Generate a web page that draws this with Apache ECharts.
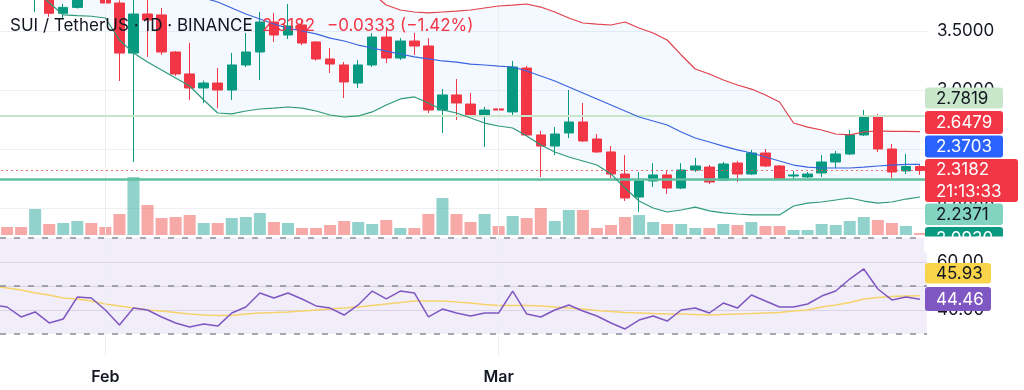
<!DOCTYPE html>
<html><head><meta charset="utf-8">
<script src="https://cdn.jsdelivr.net/npm/echarts@6/dist/echarts.min.js"></script>
<style>html,body{margin:0;padding:0;background:#fff}#c{width:1024px;height:390px}</style>
</head><body><div id="c"></div>
<script>
// ---- data ----
const dates = ['2025-01-24','2025-01-25','2025-01-26','2025-01-27','2025-01-28','2025-01-29','2025-01-30','2025-01-31',
'2025-02-01','2025-02-02','2025-02-03','2025-02-04','2025-02-05','2025-02-06','2025-02-07','2025-02-08','2025-02-09','2025-02-10',
'2025-02-11','2025-02-12','2025-02-13','2025-02-14','2025-02-15','2025-02-16','2025-02-17','2025-02-18','2025-02-19','2025-02-20',
'2025-02-21','2025-02-22','2025-02-23','2025-02-24','2025-02-25','2025-02-26','2025-02-27','2025-02-28',
'2025-03-01','2025-03-02','2025-03-03','2025-03-04','2025-03-05','2025-03-06','2025-03-07','2025-03-08','2025-03-09','2025-03-10',
'2025-03-11','2025-03-12','2025-03-13','2025-03-14','2025-03-15','2025-03-16','2025-03-17','2025-03-18','2025-03-19','2025-03-20',
'2025-03-21','2025-03-22','2025-03-23','2025-03-24','2025-03-25','2025-03-26','2025-03-27','2025-03-28','2025-03-29','2025-03-30','2025-03-31'];

const open = [4.20,4.15,4.08,3.90,3.96,3.65,3.70,3.88,
3.80,3.737,3.313,3.644,3.636,3.322,3.136,3.017,3.059,3.0,
3.212,3.322,3.576,3.466,3.551,3.407,3.263,3.212,3.059,3.212,
3.449,3.271,3.415,3.373,2.83,2.958,2.881,2.788,
2.84,2.814,3.186,2.619,2.525,2.636,2.729,2.585,2.475,2.288,
2.093,2.229,2.28,2.169,2.322,2.347,2.237,2.381,2.288,2.466,
2.356,2.271,2.263,2.297,2.39,2.458,2.619,2.78,2.5,2.314,2.3515];
const close = [4.15,4.08,3.98,3.96,3.65,3.70,3.88,3.80,
3.737,3.313,3.644,3.593,3.322,3.136,3.017,3.059,3.0,3.212,
3.322,3.576,3.466,3.542,3.398,3.263,3.22,3.068,3.212,3.449,
3.271,3.415,3.373,2.83,2.958,2.89,2.788,2.83,
2.83,3.195,2.619,2.525,2.627,2.729,2.568,2.475,2.288,2.085,
2.229,2.28,2.169,2.322,2.356,2.22,2.373,2.288,2.466,2.356,
2.246,2.28,2.288,2.39,2.458,2.619,2.78,2.5,2.305,2.3515,2.3182];
const low = [4.05,4.00,3.90,3.66,3.62,3.61,3.69,3.78,
3.73,3.076,2.39,3.28,3.297,3.12,2.915,2.89,2.847,2.915,
3.195,3.085,3.407,3.432,3.38,3.25,3.144,2.932,3.017,3.195,
3.229,3.254,3.297,2.805,2.636,2.746,2.771,2.517,
2.771,2.788,2.61,2.263,2.449,2.593,2.559,2.466,2.254,2.059,
1.966,2.178,2.119,2.16,2.305,2.203,2.229,2.22,2.28,2.347,
2.237,2.237,2.254,2.263,2.339,2.449,2.61,2.475,2.254,2.288,2.28];
const high = [4.30,4.22,4.12,4.05,4.03,3.73,3.95,3.98,
3.85,3.76,3.80,3.78,3.695,3.33,3.40,3.08,3.186,3.314,
3.483,3.66,3.653,3.729,3.593,3.415,3.356,3.237,3.254,3.483,
3.534,3.44,3.483,3.44,3.008,3.093,2.975,2.856,
2.924,3.246,3.203,2.653,2.686,3.0,2.89,2.627,2.525,2.449,
2.305,2.381,2.322,2.381,2.424,2.364,2.39,2.398,2.492,2.5,
2.364,2.314,2.305,2.449,2.483,2.661,2.83,2.797,2.542,2.458,2.37];
const volume = [20,16,16,52,22,24,28,24,
16,42,116,60,34,36,40,24,24,34,
36,44,26,24,14,14,20,28,26,22,
30,14,14,42,74,42,26,42,
18,38,34,54,28,50,50,14,20,36,
40,26,22,22,14,14,22,20,26,18,
18,10,10,22,20,28,36,30,24,18,4];
const bbUpper = [4.51,4.50,4.51,4.53,4.56,4.58,4.51,4.44,
4.37,4.48,4.51,4.52,4.53,4.54,4.57,4.65,4.69,4.59,
4.47,4.37,4.27,4.19,4.15,4.12,4.06,3.98,3.90,3.82,
3.72,3.678,3.661,3.653,3.661,3.669,3.678,3.695,
3.712,3.72,3.729,3.703,3.661,3.61,3.568,3.559,3.551,3.576,
3.525,3.483,3.424,3.297,3.178,3.136,3.085,3.042,3.008,2.958,
2.898,2.72,2.686,2.661,2.627,2.619,2.644,2.653,2.649,2.649,2.6479];
const bbMiddle = [4.28,4.25,4.22,4.19,4.15,4.11,4.07,4.03,
3.99,3.95,3.91,3.88,3.85,3.82,3.80,3.78,3.746,3.695,
3.644,3.602,3.559,3.525,3.50,3.475,3.44,3.415,3.381,3.356,
3.33,3.305,3.28,3.263,3.246,3.237,3.22,3.212,
3.203,3.195,3.161,3.119,3.076,3.025,2.975,2.924,2.873,2.822,
2.771,2.737,2.703,2.644,2.593,2.559,2.525,2.492,2.466,2.432,
2.398,2.364,2.347,2.339,2.339,2.339,2.347,2.356,2.364,2.369,2.3703];
const bbLower = [4.05,4.00,3.93,3.85,3.74,3.636,3.63,3.625,
3.61,3.424,3.314,3.237,3.169,3.102,3.034,2.915,2.805,2.797,
2.822,2.839,2.847,2.856,2.847,2.822,2.788,2.771,2.78,2.814,
2.873,2.924,2.941,2.89,2.831,2.805,2.763,2.72,
2.695,2.678,2.61,2.534,2.475,2.432,2.398,2.364,2.288,2.169,
2.059,2.0,1.966,1.983,2.008,1.975,1.958,1.949,1.941,1.941,
1.941,2.017,2.042,2.051,2.068,2.085,2.059,2.042,2.051,2.076,2.093];
const rsi = [42.1,41.25,37.1,39.2,34.6,36.25,45.4,45.0,
40.0,33.75,40.8,40.0,37.1,34.6,32.9,34.2,33.3,38.75,
41.25,47.1,45.0,47.1,44.6,41.7,40.8,37.9,42.1,47.9,
44.6,47.9,47.1,37.1,40.4,38.75,37.5,38.75,
38.75,47.9,38.3,37.1,40.0,42.1,39.6,37.5,34.6,32.1,
35.8,37.5,35.4,40.0,40.8,38.75,42.9,40.8,46.25,43.75,
41.25,41.25,42.5,45.8,47.9,52.9,57.1,48.75,44.2,45.4,44.46];
const rsiMa = [50.0,49.2,48.3,47.1,46.25,45.0,44.6,43.75,
42.5,41.7,40.8,40.0,39.6,38.96,38.3,37.9,37.7,37.7,
38.3,38.75,38.96,39.2,39.6,40.0,40.4,40.8,41.25,41.9,
42.5,43.1,43.75,43.75,43.75,43.3,42.9,42.3,
41.9,41.9,41.9,41.7,41.25,40.8,40.4,39.8,39.4,38.96,
38.75,38.5,38.3,38.3,38.1,37.9,38.1,38.3,38.5,38.75,
38.96,39.6,40.0,41.25,42.1,43.1,44.6,45.2,45.6,45.8,45.93];
const priceTicks = [2.0, 2.5, 3.0, 3.5];
const hLevels = {resistance: 2.7819, support: 2.2371, last: 2.3182};
const rightLabels = ['2.7819','2.6479','2.3703','2.3182','21:13:33','2.2371','2.0930'];
const rsiLabels = ['45.93','44.46'];
const titleMain = 'SUI / TetherUS · 1D · BINANCE';
const titlePrice = '2.3182';
const titleChange = '−0.0333 (−1.42%)';
const monthNames = {'02':'Feb','03':'Mar'};

// ---- build ----
const UP = '#089981', DOWN = '#f23645';
const candleData = dates.map((d,i)=>[open[i], close[i], low[i], high[i]]);
const volData = volume.map((v,i)=>({value:v, itemStyle:{color: close[i]>=open[i] ? 'rgba(38,166,154,0.5)' : 'rgba(239,83,80,0.5)'}}));
const bbFill = bbUpper.map((u,i)=>+(u-bbLower[i]).toFixed(4));
const FONT = 'Inter, "Noto Sans", sans-serif';
const GL = -14, GW = 941;

const chart = echarts.init(document.getElementById('c'), null, {renderer:'canvas'});

function box(x, y, w, h, bg, lines, color, z){
  const children = [{type:'rect', shape:{x:x, y:y, width:w, height:h, r:3}, style:{fill:bg}, z:z}];
  const lh = h / lines.length;
  lines.forEach((t,k)=>children.push({type:'text', x:x+11, y:y+lh*k+lh/2+0.5, z:z+1,
    style:{text:t, font:'17px '+FONT, fill:color, verticalAlign:'middle', align:'left'}}));
  return children;
}

const graphics = [
  {type:'text', x:10, y:25.5, z:50, style:{text:titleMain, font:'17px '+FONT, fill:'#131722', verticalAlign:'middle'}},
  {type:'text', x:262, y:25.5, z:50, style:{text:titlePrice, font:'17px '+FONT, fill:DOWN, verticalAlign:'middle'}},
  {type:'text', x:327, y:25.5, z:50, style:{text:titleChange, font:'17px '+FONT, fill:DOWN, verticalAlign:'middle'}},
  ...box(925, 87.5, 78, 21, '#c8e6c9', [rightLabels[0]], '#131722', 100),
  ...box(925, 111, 78, 23, '#f23645', [rightLabels[1]], '#ffffff', 100),
  ...box(925, 135.5, 78, 22, '#2962ff', [rightLabels[2]], '#ffffff', 100),
  ...box(925, 159, 93, 43, '#f23645', [rightLabels[3], rightLabels[4]], '#ffffff', 100),
  ...box(925, 203.5, 78, 21.5, '#82d3c0', [rightLabels[5]], '#131722', 100),
  ...box(925, 227, 78, 22, '#089981', [rightLabels[6]], '#ffffff', 100),
  {type:'rect', shape:{x:924, y:236.5, width:100, height:16}, style:{fill:'#ffffff'}, z:110},
  ...box(925, 263, 66, 20.5, '#f9d44a', [rsiLabels[0]], '#131722', 100),
  ...box(925, 287, 66, 24, '#7e57c2', [rsiLabels[1]], '#ffffff', 100)
];

const hiddenCat = (gi)=>({type:'category', gridIndex:gi, data:dates, boundaryGap:true,
  axisLine:{show:false}, axisTick:{show:false}, axisLabel:{show:false}, splitLine:{show:false}});

const option = {
  animation:false,
  backgroundColor:'#ffffff',
  textStyle:{fontFamily:FONT},
  grid:[
    {left:GL, width:GW, top:-28, height:295, outerBoundsMode:'none', containLabel:false},
    {left:GL, width:GW, top:135, height:100, outerBoundsMode:'none', containLabel:false},
    {left:GL, width:GW, top:238, height:96, outerBoundsMode:'none', containLabel:false},
    {left:GL, width:GW, top:0, height:355, outerBoundsMode:'none', containLabel:false}
  ],
  xAxis:[hiddenCat(0), hiddenCat(1), hiddenCat(2),
    {type:'category', gridIndex:3, data:dates, boundaryGap:true,
     axisLine:{show:false}, axisTick:{show:false}, splitLine:{show:false},
     axisLabel:{show:true, margin:14, interval:(idx,v)=>v.slice(8)==='01',
       formatter:v=>monthNames[v.slice(5,7)]||'', fontSize:16, fontWeight:600, color:'#131722', fontFamily:FONT}}],
  yAxis:[
    {type:'value', gridIndex:0, position:'right', min:1.5, max:4.0, interval:0.5,
     axisLine:{show:false}, axisTick:{show:false},
     axisLabel:{margin:10, fontSize:17, color:'#131722', fontFamily:FONT, showMinLabel:false, showMaxLabel:false,
       formatter:v=>priceTicks.some(t=>Math.abs(t-v)<1e-9)?v.toFixed(4):''},
     splitLine:{show:true, showMinLine:false, showMaxLine:false, lineStyle:{color:'#eef0f4', width:1}}},
    {type:'value', gridIndex:1, min:0, max:200, show:false, splitLine:{show:false}},
    {type:'value', gridIndex:2, position:'right', min:30, max:70, interval:10,
     axisLine:{show:false}, axisTick:{show:false},
     axisLabel:{margin:10, fontSize:17, color:'#131722', fontFamily:FONT,
       formatter:v=>(v===60||v===40)?v.toFixed(2):''},
     splitLine:{show:true, showMinLine:false, showMaxLine:false, lineStyle:{color:'#e4e0ec', width:1}}},
    {type:'value', gridIndex:3, min:0, max:1, show:false, splitLine:{show:false}}
  ],
  graphic: graphics,
  series:[
    {name:'month lines', type:'line', xAxisIndex:3, yAxisIndex:3, data:[], z:1, silent:true,
     markLine:{symbol:'none', silent:true, label:{show:false}, lineStyle:{color:'#eceef2', type:'solid', width:1},
       data:[{xAxis:'2025-02-01'},{xAxis:'2025-03-01'}]}},
    {name:'bbBase', type:'line', xAxisIndex:0, yAxisIndex:0, data:bbLower, stack:'bb', symbol:'none',
     lineStyle:{opacity:0}, silent:true, z:1},
    {name:'bbFill', type:'line', xAxisIndex:0, yAxisIndex:0, data:bbFill, stack:'bb', symbol:'none',
     lineStyle:{opacity:0}, areaStyle:{color:'rgba(33,150,243,0.08)'}, silent:true, z:1},
    {name:'Volume', type:'bar', xAxisIndex:1, yAxisIndex:1, data:volData, barWidth:12, z:3},
    {name:'SUI', type:'candlestick', xAxisIndex:0, yAxisIndex:0, data:candleData, barWidth:10, z:4,
     itemStyle:{color:UP, color0:DOWN, borderColor:UP, borderColor0:DOWN, borderWidth:1},
     markLine:{symbol:'none', silent:true, label:{show:false}, data:[
       {yAxis:hLevels.resistance, lineStyle:{color:'#c8e6c9', width:2, type:'solid'}},
       {yAxis:hLevels.support, lineStyle:{color:'#5fbf9f', width:2.5, type:'solid'}},
       {yAxis:hLevels.last, lineStyle:{color:'#ef5350', width:1, type:[2,3], opacity:0.85}}
     ]}},
    {name:'BB Upper', type:'line', xAxisIndex:0, yAxisIndex:0, data:bbUpper, symbol:'none', z:5,
     lineStyle:{color:'#e0414c', width:1.2}},
    {name:'BB Basis', type:'line', xAxisIndex:0, yAxisIndex:0, data:bbMiddle, symbol:'none', z:5,
     lineStyle:{color:'#3a64e0', width:1.2}},
    {name:'BB Lower', type:'line', xAxisIndex:0, yAxisIndex:0, data:bbLower, symbol:'none', z:5,
     lineStyle:{color:'#2f9a78', width:1.2}},
    {name:'RSI', type:'line', xAxisIndex:2, yAxisIndex:2, data:rsi, symbol:'none', z:5,
     lineStyle:{color:'#7e57c2', width:1.5},
     markArea:{silent:true, itemStyle:{color:'rgba(126,87,194,0.1)'}, data:[[{yAxis:30},{yAxis:70}]]},
     markLine:{symbol:'none', silent:true, label:{show:false}, lineStyle:{color:'#8a8d96', width:1.5, type:[6,8]},
       data:[{yAxis:70},{yAxis:50},{yAxis:30}]}},
    {name:'RSI MA', type:'line', xAxisIndex:2, yAxisIndex:2, data:rsiMa, symbol:'none', z:4,
     lineStyle:{color:'#f5d36a', width:1.5}}
  ]
};
chart.setOption(option);
</script></body></html>
